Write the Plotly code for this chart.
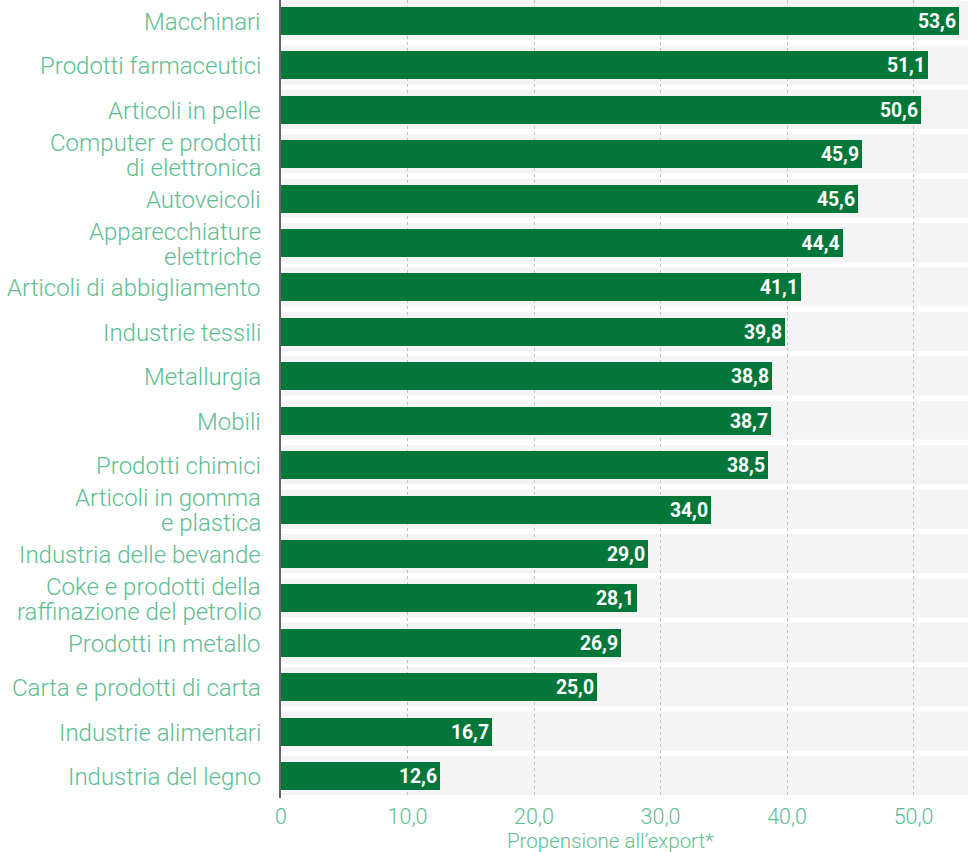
import plotly.graph_objects as go

# Export propensity by manufacturing sector
categories = [
    "Macchinari",
    "Prodotti farmaceutici",
    "Articoli in pelle",
    "Computer e prodotti<br>di elettronica",
    "Autoveicoli",
    "Apparecchiature<br>elettriche",
    "Articoli di abbigliamento",
    "Industrie tessili",
    "Metallurgia",
    "Mobili",
    "Prodotti chimici",
    "Articoli in gomma<br>e plastica",
    "Industria delle bevande",
    "Coke e prodotti della<br>raffinazione del petrolio",
    "Prodotti in metallo",
    "Carta e prodotti di carta",
    "Industrie alimentari",
    "Industria del legno",
]
values = [53.6, 51.1, 50.6, 45.9, 45.6, 44.4, 41.1, 39.8, 38.8, 38.7,
          38.5, 34.0, 29.0, 28.1, 26.9, 25.0, 16.7, 12.6]
x_ticks = [0, 10, 20, 30, 40, 50]
x_tick_labels = ["0", "10,0", "20,0", "30,0", "40,0", "50,0"]
axis_title = "Propensione all\u2019export*"

BAR = "#03773a"
LABEL = "#5ebd91"
BAND = "#f4f4f4"
LINE_H = 25  # line spacing for wrapped category labels

positions = list(range(len(categories)))
labels = [f"{v:.1f}".replace(".", ",") for v in values]

fig = go.Figure(
    go.Bar(
        x=values,
        y=positions,
        orientation="h",
        width=0.63,
        marker=dict(color=BAR, line=dict(width=0)),
        text=labels,
        textposition="inside",
        insidetextanchor="end",
        textfont=dict(family="Roboto", size=22, color="white", weight=700),
        cliponaxis=False,
        hoverinfo="skip",
    )
)

# light row bands behind each bar
shapes = []
for p in positions:
    shapes.append(dict(
        type="rect", xref="paper", yref="y",
        x0=0, x1=1, y0=p - 0.45, y1=p + 0.43,
        fillcolor=BAND, line=dict(width=0), layer="below",
    ))

# category labels, one annotation per text line for tight spacing
annotations = []
for p, cat in zip(positions, categories):
    lines = cat.split("<br>")
    n = len(lines)
    for k, line in enumerate(lines):
        annotations.append(dict(
            text=line, xref="paper", yref="y",
            x=0, y=p, xshift=-18, yshift=((n - 1) / 2 - k) * LINE_H - 1,
            xanchor="right", yanchor="middle", showarrow=False,
            font=dict(family="Roboto", size=24, color=LABEL, weight=300),
        ))

annotations.append(dict(
    text=axis_title,
    xref="paper", yref="paper",
    x=0.479, y=0, yshift=-42.5,
    xanchor="center", yanchor="middle",
    showarrow=False,
    font=dict(family="Roboto", size=20.5, color=LABEL, weight=300),
))

fig.update_layout(
    width=968,
    height=852,
    margin=dict(l=281, r=0, t=0, b=54),
    plot_bgcolor="white",
    paper_bgcolor="white",
    showlegend=False,
    shapes=shapes,
    annotations=annotations,
    bargap=0,
    xaxis=dict(
        range=[0, 54.3],
        tickvals=x_ticks,
        ticktext=x_tick_labels,
        showgrid=True,
        gridcolor="#c4c4c4",
        griddash="dot",
        gridwidth=1,
        zeroline=False,
        showline=False,
        ticks="",
        ticklabelstandoff=3,
        tickfont=dict(family="Roboto", size=21.5, color=LABEL, weight=300),
        fixedrange=True,
    ),
    yaxis=dict(
        range=[17.495, -0.473],
        showticklabels=False,
        showgrid=False,
        zeroline=False,
        showline=True,
        linecolor="#666666",
        linewidth=2,
        ticks="",
        fixedrange=True,
    ),
)

fig.write_html("out.html")
